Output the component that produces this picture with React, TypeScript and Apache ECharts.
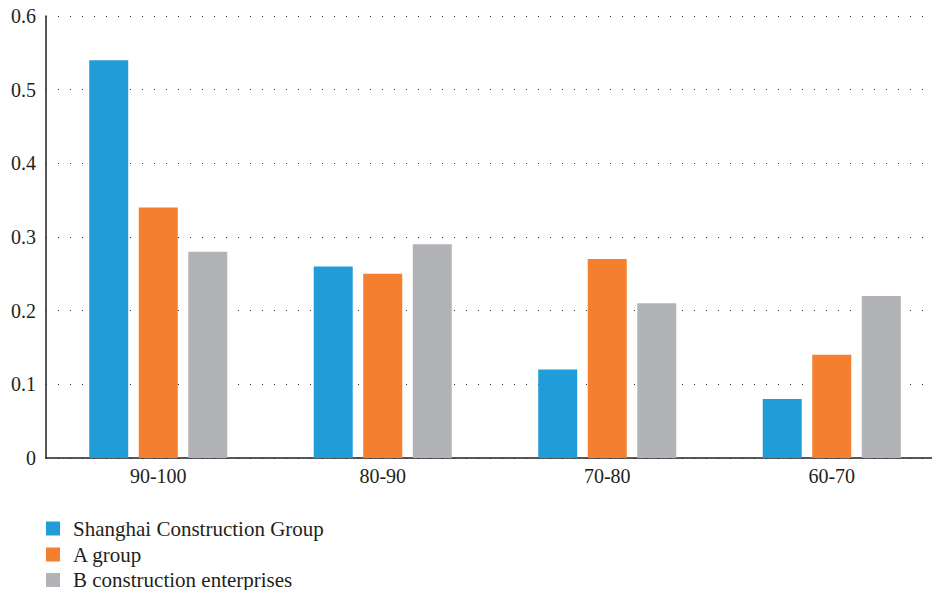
import React, { useEffect, useRef } from "react";
import * as echarts from "echarts";

const categories = ["90-100", "80-90", "70-80", "60-70"];
const shanghaiGroup = [0.54, 0.26, 0.12, 0.08];
const aGroup = [0.34, 0.25, 0.27, 0.14];
const bEnterprises = [0.28, 0.29, 0.21, 0.22];
const seriesNames = [
  "Shanghai Construction Group",
  "A group",
  "B construction enterprises",
];
const colors = ["#209cd9", "#f37f2f", "#b1b3b6"];

const FONT = "'Liberation Serif', 'DejaVu Serif', serif";
const INK = "#231f20";
// top edge of each legend row
const legendRowTops = [518, 544, 569.5];

export default function App() {
  const ref = useRef<HTMLDivElement>(null);

  useEffect(() => {
    if (!ref.current) return;
    const chart = echarts.init(ref.current, null, { renderer: "svg" });
    const values = [shanghaiGroup, aGroup, bEnterprises];
    chart.setOption({
      animation: false,
      color: colors,
      grid: {
        left: 46,
        top: 16,
        width: 898,
        height: 442,
        outerBoundsMode: "none",
      },
      legend: seriesNames.map((name, i) => ({
        orient: "vertical",
        left: 46,
        top: legendRowTops[i],
        padding: 0,
        itemWidth: 14,
        itemHeight: 14,
        icon: "rect",
        textStyle: {
          fontFamily: FONT,
          fontSize: 21,
          lineHeight: 14,
          color: INK,
          padding: [0, 0, 0, 8],
        },
        data: [name],
      })),
      xAxis: {
        type: "category",
        data: categories,
        axisLine: { lineStyle: { color: INK, width: 1.5 } },
        axisTick: { show: false },
        axisLabel: {
          fontFamily: FONT,
          fontSize: 20,
          color: INK,
          margin: 8,
        },
      },
      yAxis: {
        type: "value",
        min: 0,
        max: 0.6,
        interval: 0.1,
        axisLine: { show: true, lineStyle: { color: INK, width: 1.5 } },
        axisTick: { show: false },
        axisLabel: {
          fontFamily: FONT,
          fontSize: 20,
          color: INK,
          margin: 10,
          formatter: (v: number) => (v === 0 ? "0" : String(Math.round(v * 10) / 10)),
        },
        splitLine: {
          show: true,
          lineStyle: { color: "#333", width: 1, type: [1, 11] },
        },
      },
      series: seriesNames.map((name, i) => ({
        name,
        type: "bar",
        data: values[i],
        barWidth: 39,
        barGap: "27%",
        itemStyle: { color: colors[i] },
      })),
    });
    return () => chart.dispose();
  }, []);

  return (
    <div
      ref={ref}
      style={{ position: "absolute", left: 0, top: 0, width: 932, height: 590 }}
    />
  );
}
